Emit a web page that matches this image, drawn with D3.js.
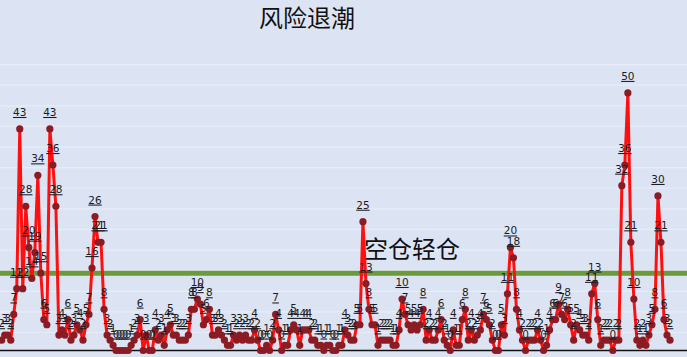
<!DOCTYPE html>
<html>
<head>
<meta charset="utf-8">
<script src="https://cdn.jsdelivr.net/npm/d3@7/dist/d3.min.js"></script>
<style>
  html, body { margin: 0; padding: 0; background: #dce4f4; }
  svg { display: block; }
</style>
</head>
<body>
<svg id="chart" width="687" height="357"></svg>
<script>
// ---- data ----
const title = "风险退潮";
const thresholdLabel = "空仓轻仓";
const thresholdValue = 15;
const values = [
  2, 3, 3, 2, 7, 12, 43, 12, 28, 20, 14, 19, 34, 15, 6, 5, 43, 36, 28, 3,
  4, 3, 6, 2, 3, 5, 4, 2, 5, 7, 16, 26, 21, 21, 8, 3, 2, 1, 0, 0,
  0, 0, 0, 1, 2, 3, 6, 0, 3, 0, 0, 4, 2, 3, 1, 4, 5, 3, 3, 2,
  2, 2, 3, 8, 8, 10, 9, 5, 6, 8, 3, 3, 4, 3, 2, 1, 1, 3, 2, 3,
  2, 3, 2, 2, 4, 2, 0, 0, 1, 0, 2, 7, 4, 0, 1, 1, 4, 5, 4, 1,
  4, 4, 4, 2, 2, 1, 1, 0, 1, 1, 0, 0, 1, 1, 4, 3, 2, 2, 5, 5,
  25, 13, 8, 5, 5, 1, 2, 2, 2, 2, 1, 1, 4, 10, 7, 5, 4, 5, 4, 5,
  8, 2, 4, 2, 2, 4, 6, 2, 1, 0, 4, 1, 1, 6, 8, 2, 4, 2, 3, 4,
  7, 6, 5, 2, 0, 0, 5, 3, 11, 20, 18, 8, 4, 2, 0, 2, 2, 2, 4, 2,
  0, 1, 4, 6, 6, 9, 7, 6, 8, 5, 2, 5, 4, 3, 3, 2, 11, 13, 6, 1,
  2, 2, 2, 0, 2, 2, 32, 36, 50, 21, 10, 2, 1, 2, 1, 3, 5, 8, 30, 21,
  6, 3, 2
];
const gridTicks = [4, 8, 12, 16, 20, 24, 28, 32, 36, 40, 44, 48, 52, 56];

// ---- layout ----
const W = 687, H = 357;
const svg = d3.select("#chart");

const x = d3.scaleLinear().domain([0, values.length - 1]).range([1.7, 670]);
const y = d3.scaleLinear().domain([0, 56]).range([350.5, 62]);

// background
svg.append("rect").attr("width", W).attr("height", H).attr("fill", "#dce4f4");

const defs = svg.append("defs");
defs.append("filter").attr("id", "soft")
  .append("feGaussianBlur").attr("stdDeviation", 0.6);

// gridlines (soft bands)
const grid = svg.append("g");
grid.selectAll("line.g1").data(gridTicks).join("line")
  .attr("class", "g1")
  .attr("x1", 0).attr("x2", W)
  .attr("y1", d => y(d)).attr("y2", d => y(d))
  .attr("stroke", "#c3c9d8").attr("stroke-width", 4)
  .attr("filter", "url(#soft)");
grid.selectAll("line.g2").data(gridTicks).join("line")
  .attr("class", "g2")
  .attr("x1", 0).attr("x2", W)
  .attr("y1", d => y(d) + 2.6).attr("y2", d => y(d) + 2.6)
  .attr("stroke", "#e8ecf8").attr("stroke-width", 1.2);

// baseline
svg.append("line")
  .attr("x1", 0).attr("x2", W)
  .attr("y1", y(0)).attr("y2", y(0))
  .attr("stroke", "#111").attr("stroke-width", 1.5);

// threshold line
svg.append("line")
  .attr("x1", 0).attr("x2", W)
  .attr("y1", y(thresholdValue)).attr("y2", y(thresholdValue))
  .attr("stroke", "#6b9a3d").attr("stroke-width", 5);

// series line
const line = d3.line().x((d, i) => x(i)).y(d => y(d));
svg.append("path")
  .datum(values)
  .attr("d", line)
  .attr("fill", "none")
  .attr("stroke", "#ff1010")
  .attr("stroke-width", 3)
  .attr("stroke-linejoin", "round");

// markers
svg.append("g").selectAll("circle").data(values).join("circle")
  .attr("cx", (d, i) => x(i))
  .attr("cy", d => y(d))
  .attr("r", 3.6)
  .attr("fill", "#8c1c24");

// data labels
svg.append("g").selectAll("text").data(values).join("text")
  .attr("x", (d, i) => x(i))
  .attr("y", d => y(d) - 13)
  .attr("text-anchor", "middle")
  .attr("font-family", "DejaVu Sans, Verdana, sans-serif")
  .attr("font-size", 10.5)
  .attr("fill", "#1b1b22")
  .style("text-decoration", "underline")
  .text(d => d);

// threshold text
svg.append("text")
  .attr("x", 364).attr("y", 258)
  .attr("font-family", "Noto Sans CJK SC, sans-serif")
  .attr("font-size", 24)
  .attr("fill", "#111")
  .text(thresholdLabel);

// title
svg.append("text")
  .attr("x", 307).attr("y", 27)
  .attr("text-anchor", "middle")
  .attr("font-family", "Noto Sans CJK SC, sans-serif")
  .attr("font-size", 24)
  .attr("fill", "#111")
  .text(title);
</script>
</body>
</html>
